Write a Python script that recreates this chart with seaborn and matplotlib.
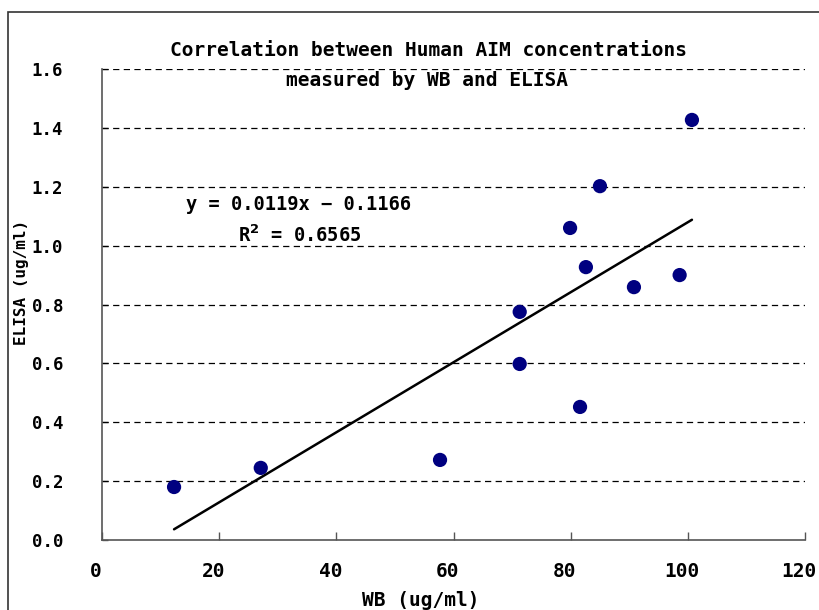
import numpy as np
import pandas as pd
import matplotlib
matplotlib.use('Agg')
import matplotlib.pyplot as plt
import matplotlib.transforms as mtransforms
import seaborn as sns
from matplotlib.patches import Rectangle

# values
wb = [12.3, 27.1, 57.7, 71.3, 71.3, 79.9, 81.6, 82.6, 85.0, 90.8, 98.6, 100.7]
elisa = [0.18, 0.245, 0.272, 0.775, 0.598, 1.06, 0.452, 0.927, 1.202, 0.859, 0.900, 1.427]
x_ticks = [0, 20, 40, 60, 80, 100, 120]
y_ticks = [0.0, 0.2, 0.4, 0.6, 0.8, 1.0, 1.2, 1.4, 1.6]

df = pd.DataFrame({'WB': wb, 'ELISA': elisa})

sns.set_style('white')
plt.rcParams['font.family'] = ['DejaVu Sans Mono', 'DejaVu Sans']
plt.rcParams['font.weight'] = 'bold'
plt.rcParams['text.color'] = 'black'
plt.rcParams['xtick.labelcolor'] = 'black'
plt.rcParams['ytick.labelcolor'] = 'black'

fig = plt.figure(figsize=(8.19, 6.10), dpi=100)
W, H = 819, 610
ax = fig.add_axes([102 / W, 1 - 540 / H, (805 - 102) / W, (540 - 69) / H])

# chart frame
fig.add_artist(Rectangle((8 / W, -0.05), 1.0, 1 - 12 / H + 0.05, transform=fig.transFigure,
                         fill=False, edgecolor='#333333', linewidth=1.2))

for yv in y_ticks[1:]:
    ax.axhline(yv, color='black', linestyle=(0, (5, 3.5)), linewidth=0.9, zorder=1)

sns.regplot(data=df, x='WB', y='ELISA', scatter=False, ci=None, truncate=True,
            line_kws={'color': 'black', 'linewidth': 1.8}, ax=ax)
sns.scatterplot(data=df, x='WB', y='ELISA', color='#000080', s=105, edgecolor='none',
                zorder=3, ax=ax)

ax.set_xlim(0, 120)
ax.set_ylim(0, 1.6)
ax.set_xticks(x_ticks)
ax.set_yticks(y_ticks)
ax.set_xticklabels([str(v) for v in x_ticks], fontsize=14, fontweight='bold')
ax.set_yticklabels([f'{v:.1f}' for v in y_ticks], fontsize=12.5, fontweight='bold')
ax.tick_params(axis='x', bottom=True, direction='in', length=6, width=1,
               color='#555555', pad=16)
ax.tick_params(axis='y', left=True, direction='in', length=4, width=1,
               color='#555555', pad=28)
ax.set_xlabel('')
ax.set_ylabel('')
for side in ['top', 'right']:
    ax.spines[side].set_visible(False)
for side in ['left', 'bottom']:
    ax.spines[side].set_color('#555555')
    ax.spines[side].set_linewidth(1.2)

# Excel places the x labels a little left of their ticks
shift = mtransforms.ScaledTranslation(-6 / 100, 0, fig.dpi_scale_trans)
for lab in ax.get_xticklabels():
    lab.set_transform(lab.get_transform() + shift)

fig.text(22 / W, 1 - 282 / H, 'ELISA (ug/ml)', rotation=90, ha='center', va='center',
         fontsize=11.5, fontweight='bold')
fig.text(421 / W, 1 - 601 / H, 'WB (ug/ml)', ha='center', va='center',
         fontsize=14, fontweight='bold')
fig.text(428 / W, 1 - 51 / H, 'Correlation between Human AIM concentrations',
         ha='center', va='center', fontsize=14, fontweight='bold')
fig.text(427 / W, 1 - 80 / H, 'measured by WB and ELISA',
         ha='center', va='center', fontsize=14, fontweight='bold')

fig.text(299 / W, 1 - 205 / H, 'y = 0.0119x \u2212 0.1166', ha='center', va='center',
         fontsize=13.5, fontweight='bold')
fig.text(300 / W, 1 - 235 / H, r'R$^{\mathbf{2}}$ = 0.6565', ha='center', va='center',
         fontsize=13.5, fontweight='bold')

fig.savefig('out.png', dpi=100)
